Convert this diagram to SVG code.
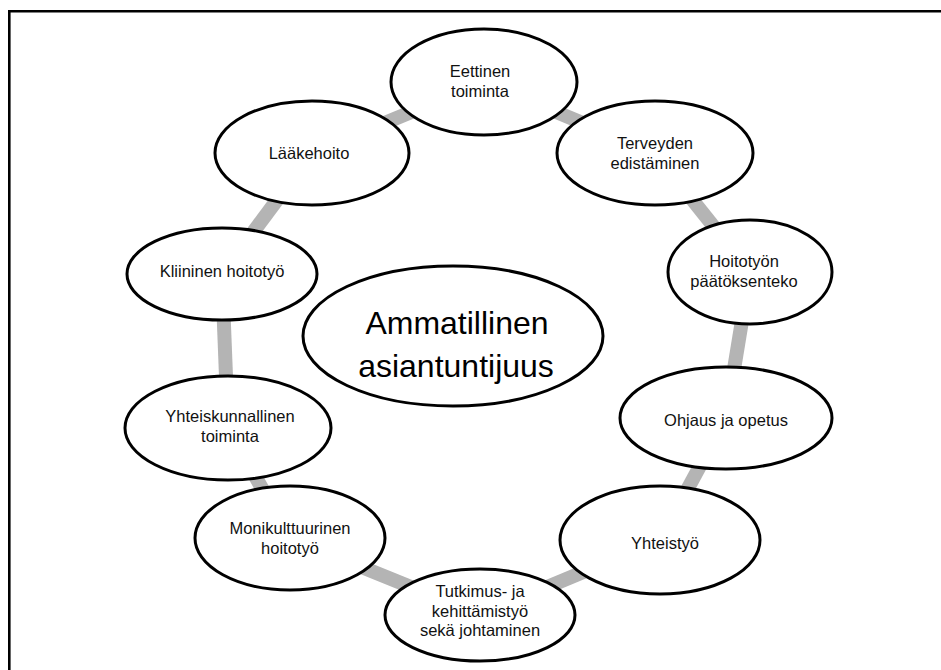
<svg xmlns="http://www.w3.org/2000/svg" width="941" height="670" viewBox="0 0 941 670">
<style>
.bg{fill:#ffffff}
.frame{stroke:#000;stroke-width:2.6;fill:none}
.conn{stroke:#b4b4b4;stroke-width:14;fill:none}
.node{fill:#fff;stroke:#000;stroke-width:3}
.t{font-family:"Liberation Sans",Arial,sans-serif;font-size:16.5px;fill:#111;text-anchor:middle}
.big{font-family:"Liberation Sans",Arial,sans-serif;font-size:32px;fill:#000;text-anchor:middle}
</style>
<rect class="bg" x="0" y="0" width="941" height="670"/>
<g id="frame">
<line class="frame" x1="8" y1="11.2" x2="941" y2="11.2"/>
<line class="frame" x1="9.3" y1="10" x2="9.3" y2="670"/>
</g>
<g id="connectors">
<line class="conn" x1="312" y1="153" x2="484" y2="82"/>
<line class="conn" x1="484" y1="82" x2="655" y2="153"/>
<line class="conn" x1="655" y1="153" x2="750" y2="272"/>
<line class="conn" x1="750" y1="272" x2="726" y2="418"/>
<line class="conn" x1="726" y1="418" x2="660" y2="540"/>
<line class="conn" x1="660" y1="540" x2="480" y2="615"/>
<line class="conn" x1="480" y1="615" x2="290" y2="538"/>
<line class="conn" x1="290" y1="538" x2="228" y2="428"/>
<line class="conn" x1="228" y1="428" x2="222" y2="274"/>
<line class="conn" x1="222" y1="274" x2="312" y2="153"/>
</g>
<g id="n-eettinen">
<ellipse class="node" cx="484" cy="82" rx="93" ry="53"/>
<text class="t" x="480" y="77">Eettinen</text>
<text class="t" x="480" y="97">toiminta</text>
</g>
<g id="n-terveyden">
<ellipse class="node" cx="655" cy="153" rx="98" ry="52"/>
<text class="t" x="655" y="149">Terveyden</text>
<text class="t" x="655" y="169">edistäminen</text>
</g>
<g id="n-hoitotyon">
<ellipse class="node" cx="750" cy="272" rx="82" ry="52"/>
<text class="t" x="744" y="267">Hoitotyön</text>
<text class="t" x="744" y="287">päätöksenteko</text>
</g>
<g id="n-ohjaus">
<ellipse class="node" cx="726" cy="418" rx="106" ry="51"/>
<text class="t" x="726" y="426">Ohjaus ja opetus</text>
</g>
<g id="n-yhteistyo">
<ellipse class="node" cx="660" cy="540" rx="100" ry="54"/>
<text class="t" x="665" y="549">Yhteistyö</text>
</g>
<g id="n-tutkimus">
<ellipse class="node" cx="480" cy="615" rx="95" ry="46"/>
<text class="t" x="480" y="597">Tutkimus- ja</text>
<text class="t" x="480" y="617">kehittämistyö</text>
<text class="t" x="480" y="636">sekä johtaminen</text>
</g>
<g id="n-monikulttuurinen">
<ellipse class="node" cx="290" cy="538" rx="95" ry="52"/>
<text class="t" x="290" y="534">Monikulttuurinen</text>
<text class="t" x="290" y="554">hoitotyö</text>
</g>
<g id="n-yhteiskunnallinen">
<ellipse class="node" cx="228" cy="428" rx="103" ry="52"/>
<text class="t" x="230" y="422">Yhteiskunnallinen</text>
<text class="t" x="230" y="442">toiminta</text>
</g>
<g id="n-kliininen">
<ellipse class="node" cx="222" cy="274" rx="95" ry="46"/>
<text class="t" x="222" y="277">Kliininen hoitotyö</text>
</g>
<g id="n-laakehoito">
<ellipse class="node" cx="312" cy="153" rx="97" ry="52"/>
<text class="t" x="309" y="159">Lääkehoito</text>
</g>
<g id="n-center">
<ellipse class="node" cx="453" cy="336" rx="150" ry="70"/>
<text class="big" x="457" y="334">Ammatillinen</text>
<text class="big" x="456" y="377">asiantuntijuus</text>
</g>
</svg>
